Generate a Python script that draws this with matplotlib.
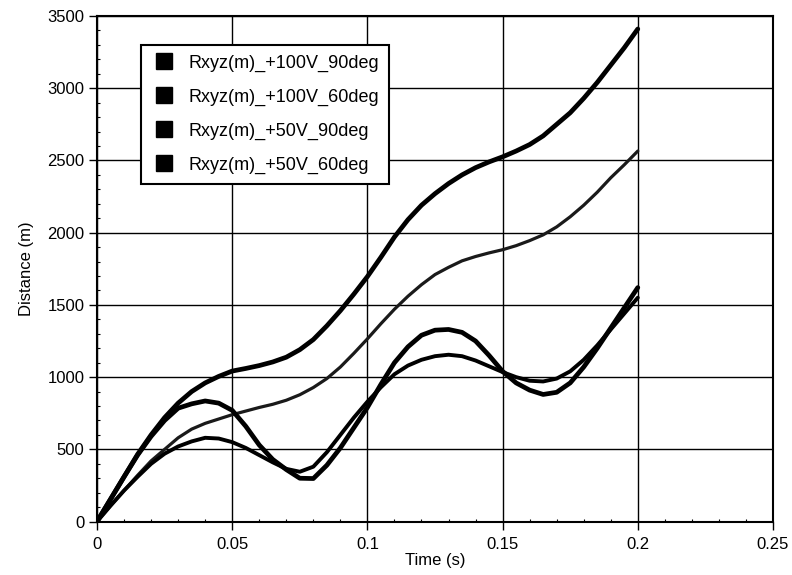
import numpy as np
import matplotlib
matplotlib.use('Agg')
import matplotlib.pyplot as plt
from matplotlib.lines import Line2D
from matplotlib.ticker import MultipleLocator

# =============================================================================
#                                   Data
# =============================================================================

t = np.arange(0, 41) * 0.005  # time [s]

r_100V_90 = [0, 155, 310, 465, 600, 720, 820, 900, 960, 1005,
             1042, 1060, 1080, 1105, 1138, 1190, 1260, 1355, 1460, 1575,
             1696, 1830, 1970, 2090, 2190, 2270, 2340, 2400, 2450, 2490,
             2525, 2565, 2610, 2670, 2750, 2830, 2930, 3040, 3160, 3280,
             3410]

r_100V_60 = [0, 110, 215, 320, 420, 500, 580, 640, 680, 710,
             740, 765, 790, 812, 840, 878, 928, 990, 1070, 1165,
             1265, 1370, 1470, 1560, 1640, 1710, 1760, 1805, 1835, 1860,
             1882, 1910, 1945, 1985, 2040, 2110, 2190, 2280, 2380, 2470,
             2565]

r_50V_90 = [0, 155, 310, 460, 590, 700, 785, 815, 835, 820,
            770, 660, 530, 430, 360, 300, 298, 390, 510, 650,
            790, 950, 1100, 1210, 1290, 1325, 1330, 1310, 1250, 1150,
            1040, 960, 910, 880, 895, 960, 1070, 1200, 1340, 1480,
            1620]

r_50V_60 = [0, 110, 215, 310, 400, 470, 520, 555, 580, 575,
            550, 510, 460, 410, 365, 345, 380, 480, 600, 720,
            830, 930, 1020, 1080, 1120, 1145, 1155, 1145, 1115, 1075,
            1035, 1000, 975, 970, 990, 1040, 1120, 1220, 1330, 1440,
            1550]

labels = ['Rxyz(m)_+100V_90deg', 'Rxyz(m)_+100V_60deg',
          'Rxyz(m)_+50V_90deg', 'Rxyz(m)_+50V_60deg']

# =============================================================================
#                                  Plot
# =============================================================================

plt.rcParams['font.family'] = ['Liberation Sans', 'DejaVu Sans']

fig = plt.figure(figsize=(7.92, 5.75), dpi=100)
ax = fig.add_axes([0.1225, 0.0929, 0.8535, 0.8793])

ax.plot(t, r_100V_90, color='black', lw=3.4, solid_capstyle='round')
ax.plot(t, r_100V_60, color='#1a1a1a', lw=2.3, solid_capstyle='round')
ax.plot(t, r_50V_90, color='black', lw=3.4, solid_capstyle='round')
ax.plot(t, r_50V_60, color='black', lw=2.8, solid_capstyle='round')

ax.set_xlim(0, 0.25)
ax.set_ylim(0, 3500)
ax.set_xticks(np.arange(0, 0.2501, 0.05))
ax.set_xticklabels(['0', '0.05', '0.1', '0.15', '0.2', '0.25'])
ax.xaxis.set_minor_locator(MultipleLocator(0.01))
ax.yaxis.set_major_locator(MultipleLocator(500))
ax.yaxis.set_minor_locator(MultipleLocator(100))

ax.grid(True, which='major', color='black', lw=1.0)
ax.tick_params(which='major', direction='out', length=6, width=1,
               pad=3, labelsize=12, colors='black')
ax.tick_params(axis='x', which='major', pad=5)
ax.tick_params(which='minor', direction='in', length=2.5, width=0.8)
for s in ax.spines.values():
    s.set_linewidth(1.5)

ax.set_xlabel('Time (s)', fontsize=12, labelpad=1)
ax.set_ylabel('Distance (m)', fontsize=12, labelpad=10)

handles = [Line2D([], [], ls='none', marker='s', ms=11.5, color='black')
           for _ in labels]
leg = ax.legend(handles, labels, loc='upper left',
                bbox_to_anchor=(0.065, 0.943), fontsize=13,
                labelspacing=0.93, handletextpad=0.6, borderpad=0.55,
                fancybox=False, framealpha=1, edgecolor='black',
                handlelength=1.5, borderaxespad=0)
leg.get_frame().set_linewidth(1.5)

fig.savefig('out.png', dpi=100)
